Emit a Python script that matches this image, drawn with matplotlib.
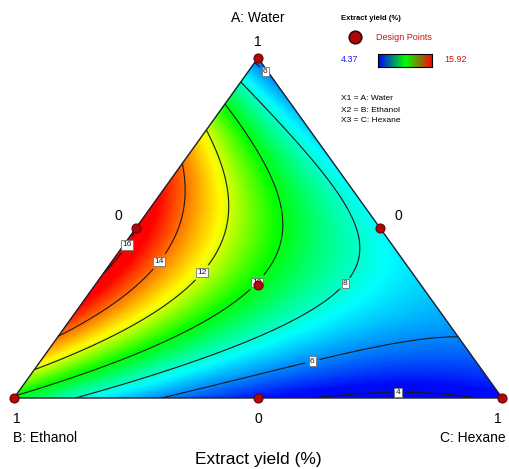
import numpy as np
import matplotlib
matplotlib.use("Agg")
import matplotlib.pyplot as plt
import matplotlib.tri as mtri
from matplotlib.colors import LinearSegmentedColormap

plt.rcParams["font.family"] = ["Liberation Sans", "DejaVu Sans"]

# Mixture model (Scheffe special cubic), coefficients
pure_coefs = [5.5, 9.8, 4.2]          # A: Water, B: Ethanol, C: Hexane
blend_coefs = [33.5, 10.6, -10.0]     # AB, AC, BC
abc_coef = -10.0
contour_levels = [4, 6, 8, 10, 12, 14, 16]
y_low, y_high = 4.37, 15.92

# Design points (fractions of A, B, C)
design_a = [1, 0, 0, 0.5, 0.5, 0, 1 / 3]
design_b = [0, 1, 0, 0.5, 0, 0.5, 1 / 3]
design_c = [0, 0, 1, 0, 0.5, 0.5, 1 / 3]

W, H = 509, 469
fig = plt.figure(figsize=(W / 100, H / 100), dpi=100)

# triangle: B bottom-left, C bottom-right, A top
left, right, top, bottom = 14, 502, 58, 398
ax = fig.add_axes([left / W, 1 - bottom / H, (right - left) / W, (bottom - top) / H])
ax.set_xlim(0, 1)
ax.set_ylim(0, 1)
ax.axis("off")


def to_xy(a, b, c):
    a = np.asarray(a, float)
    c = np.asarray(c, float)
    return c + a / 2, a


def model(a, b, c):
    return (pure_coefs[0] * a + pure_coefs[1] * b + pure_coefs[2] * c
            + blend_coefs[0] * a * b + blend_coefs[1] * a * c
            + blend_coefs[2] * b * c + abc_coef * a * b * c)


n = 160
aa, cc = [], []
for i in range(n + 1):
    for j in range(n + 1 - i):
        aa.append(i / n)
        cc.append(j / n)
aa = np.array(aa)
cc = np.array(cc)
bb = 1 - aa - cc
xs, ys = to_xy(aa, bb, cc)
zs = model(aa, bb, cc)
tri = mtri.Triangulation(xs, ys)

cmap = LinearSegmentedColormap.from_list(
    "dx", [(0.0, "#0008f8"), (0.27, "#00ffff"), (0.5, "#00ff00"),
           (0.69, "#ffff00"), (0.95, "#ff0000"), (1.0, "#ff0000")])
ax.tripcolor(tri, zs, shading="gouraud", cmap=cmap, vmin=y_low, vmax=y_high)

cs = ax.tricontour(tri, zs, levels=contour_levels, colors="#1a1a1a", linewidths=0.8)
label_pos = [(0.232, 0.45), (0.299, 0.40), (0.391, 0.362), (0.51, 0.324),
             (0.689, 0.324), (0.613, 0.097), (0.787, 0.012), (0.518, 0.965)]
labels = ax.clabel(cs, fmt="%d", fontsize=6, manual=label_pos, inline=True)
for t in labels:
    t.set_rotation(0)
    t.set_bbox(dict(boxstyle="square,pad=0.15", fc="white", ec="0.45", lw=0.6))

tx, ty = to_xy([1, 0, 0, 1], [0, 1, 0, 0], [0, 0, 1, 0])
ax.plot(tx, ty, color="#202030", lw=1.0, clip_on=False)

dx, dy = to_xy(design_a, design_b, design_c)
ax.plot(dx, dy, "o", ms=6.5, color="#b00808", mec="#700000", mew=0.8,
        clip_on=False, zorder=5)


def ftext(px, py, s, **kw):
    fig.text(px / W, 1 - py / H, s, **kw)


ftext(258, 18, "A: Water", ha="center", va="center", fontsize=10)
ftext(258, 42, "1", ha="center", va="center", fontsize=10)
ftext(118, 216, "0", ha="center", va="center", fontsize=10)
ftext(398, 216, "0", ha="center", va="center", fontsize=10)
ftext(17, 419, "1", ha="center", va="center", fontsize=10)
ftext(258, 419, "0", ha="center", va="center", fontsize=10)
ftext(498, 419, "1", ha="center", va="center", fontsize=10)
ftext(13, 438, "B: Ethanol", ha="left", va="center", fontsize=10)
ftext(506, 438, "C: Hexane", ha="right", va="center", fontsize=10)
ftext(258, 459, "Extract yield (%)", ha="center", va="center", fontsize=12.5)

# legend block
ftext(341, 18, "Extract yield (%)", ha="left", va="center", fontsize=5.5,
      fontweight="bold")
ftext(376, 37, "Design Points", ha="left", va="center", fontsize=6.5,
      color="#d01010")
ftext(341, 60, "4.37", ha="left", va="center", fontsize=6.5, color="#2020ff")
ftext(444, 60, "15.92", ha="left", va="center", fontsize=6.5, color="#e01010")
ftext(341, 99, "X1 = A: Water", ha="left", va="center", fontsize=6)
ftext(341, 110, "X2 = B: Ethanol", ha="left", va="center", fontsize=6)
ftext(341, 121, "X3 = C: Hexane", ha="left", va="center", fontsize=6)

over = fig.add_axes([0, 0, 1, 1], facecolor="none")
over.set_xlim(0, W)
over.set_ylim(H, 0)
over.axis("off")
over.plot([355], [37], "o", ms=9, color="#b00808", mec="#400000", mew=1.2)

cb = fig.add_axes([378 / W, 1 - 67 / H, 54 / W, 13 / H])
bar_cmap = LinearSegmentedColormap.from_list("bar", ["#0000ff", "#00ff00", "#ff0000"])
cb.imshow(np.linspace(0, 1, 200)[None, :], aspect="auto", cmap=bar_cmap)
cb.set_xticks([])
cb.set_yticks([])
for sp in cb.spines.values():
    sp.set_linewidth(0.8)

fig.savefig("out.png", dpi=100)
